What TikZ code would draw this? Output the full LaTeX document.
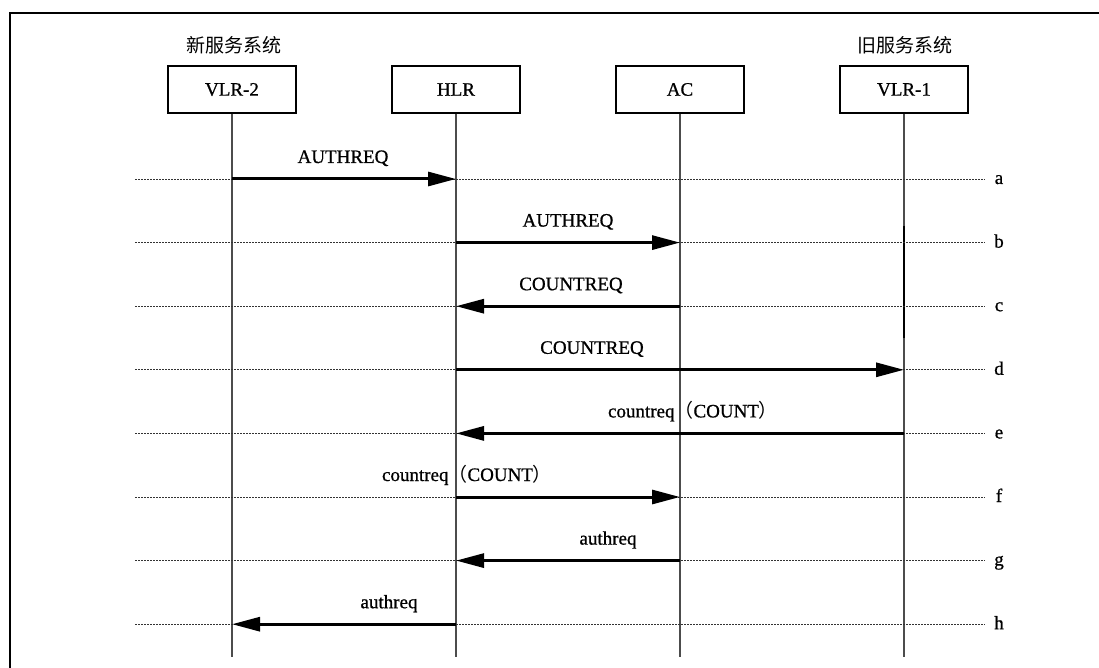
\documentclass[tikz,border=0pt]{standalone}
\usepackage{fontspec}
\setmainfont{Liberation Serif}[FakeBold=0.8]
\newfontfamily\cjk{Noto Sans CJK SC}
\usetikzlibrary{arrows.meta}
\begin{document}
\begin{tikzpicture}[x=1pt,y=-1pt,
  txt/.style={font=\fontsize{19}{22}\selectfont},
  entity/.style={txt, draw, line width=1.1pt, minimum width=128pt, minimum height=47pt, inner sep=0pt},
  lifeline/.style={line width=1.1pt, black!70},
  rowline/.style={line width=0.9pt, dash pattern=on 1.6pt off 1.4pt, black!80},
  msg/.style={line width=3pt, -{Triangle[length=28pt,width=14pt]}},
  msglabel/.style={txt, anchor=base, inner sep=0pt},
  rowtag/.style={txt, anchor=base, inner sep=0pt},
  sysname/.style={font=\cjk\fontsize{19}{22}\selectfont, inner sep=0pt}
]
\useasboundingbox (0,0) rectangle (1099,668);
\clip (0,0) rectangle (1099,668);

% page frame (top and left edges)
\draw[line width=2.4pt] (10,690) -- (10,13) -- (1120,13);

% system groups
\node[sysname] (newsys) at (234,45) {新服务系统};
\node[sysname] (oldsys) at (905,45) {旧服务系统};

% participants
\node[entity] (v2)  at (232,89.5) {VLR-2};
\node[entity] (hlr) at (456,89.5) {HLR};
\node[entity] (ac)  at (680,89.5) {AC};
\node[entity] (v1)  at (904,89.5) {VLR-1};

% lifelines
\foreach \p in {v2,hlr,ac,v1} {
  \coordinate (\p-end) at (\p |- 0,657);
  \draw[lifeline] (\p.south) -- (\p-end);
}
\coordinate (v1-act-top) at (904,226);
\coordinate (v1-act-bot) at (904,338);
\draw[line width=2pt] (v1-act-top) -- (v1-act-bot);

% step rows with dotted guides and letter tags
\foreach \r/\y in {a/179,b/242.6,c/306.2,d/369.8,e/433.4,f/497,g/560.6,h/624.2} {
  \coordinate (\r-l) at (135,\y);
  \coordinate (\r-r) at (985,\y);
  \draw[rowline] (\r-l) -- (\r-r);
  \node[rowtag] (tag-\r) at (999,\y+5) {\r};
}

% messages
\draw[msg] (v2 |- a-l)  -- (hlr |- a-l);
\draw[msg] (hlr |- b-l) -- (ac |- b-l);
\draw[msg] (ac |- c-l)  -- (hlr |- c-l);
\draw[msg] (hlr |- d-l) -- (v1 |- d-l);
\draw[msg] (v1 |- e-l)  -- (hlr |- e-l);
\draw[msg] (hlr |- f-l) -- (ac |- f-l);
\draw[msg] (ac |- g-l)  -- (hlr |- g-l);
\draw[msg] (hlr |- h-l) -- (v2 |- h-l);

% message labels
\node[msglabel] (la) at (343,163) {AUTHREQ};
\node[msglabel] (lb) at (568,226.6) {AUTHREQ};
\node[msglabel] (lc) at (571,290.2) {COUNTREQ};
\node[msglabel] (ld) at (592,353.8) {COUNTREQ};
\node[msglabel] (le) at (693,417.4) {countreq{\cjk（}COUNT{\cjk）}};
\node[msglabel] (lf) at (467,481) {countreq{\cjk（}COUNT{\cjk）}};
\node[msglabel] (lg) at (608,544.6) {authreq};
\node[msglabel] (lh) at (389,608.2) {authreq};
\end{tikzpicture}
\end{document}
